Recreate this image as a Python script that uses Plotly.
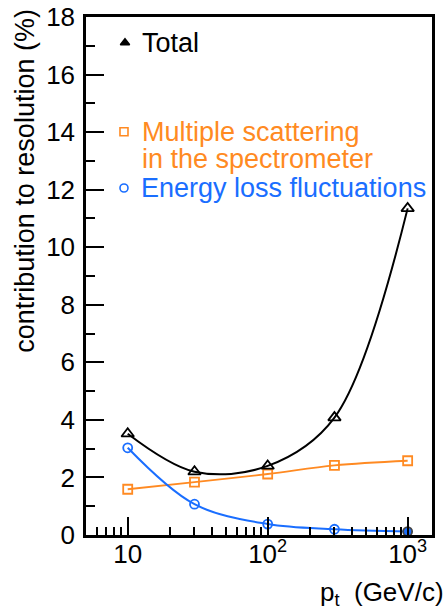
import plotly.graph_objects as go

# ---- data ----
pt = [10, 30, 100, 300, 1000]
total = [3.52, 2.20, 2.40, 4.08, 11.35]
mult_scat = [1.59, 1.84, 2.12, 2.42, 2.58]
eloss = [3.03, 1.07, 0.38, 0.20, 0.12]

labels = ["Total", "Multiple scattering", "in the spectrometer", "Energy loss fluctuations"]
x_major = [10, 100, 1000]
x_major_text = ["10", "10<sup>2</sup>", "10<sup>3</sup>"]
x_minor = [6, 7, 8, 9, 20, 30, 40, 50, 60, 70, 80, 90, 200, 300, 400, 500, 600, 700, 800, 900]
y_major = list(range(0, 19, 2))
y_minor = list(range(1, 18, 2))

BLACK = "#000000"
ORANGE = "#ff8a22"
BLUE = "#1a6eff"
FONT = "Liberation Sans, Arial, sans-serif"

fig = go.Figure()

fig.add_trace(go.Scatter(
    x=pt, y=mult_scat, mode="lines+markers",
    line=dict(color=ORANGE, width=1.8, shape="spline", smoothing=1.0),
    marker=dict(symbol="square-open", size=9, color=ORANGE, line=dict(width=1.8)),
    showlegend=False))
fig.add_trace(go.Scatter(
    x=pt, y=eloss, mode="lines+markers",
    line=dict(color=BLUE, width=2, shape="spline", smoothing=1.0),
    marker=dict(symbol=["circle-open"] * 4 + ["circle"], size=9, color=BLUE, line=dict(width=1.8)),
    showlegend=False))
fig.add_trace(go.Scatter(
    x=pt, y=total, mode="lines+markers",
    line=dict(color=BLACK, width=2, shape="spline", smoothing=1.0),
    marker=dict(symbol="triangle-up-open", size=11, color=BLACK, line=dict(width=1.8)),
    showlegend=False))

# legend markers on an overlay axis (0..1 paper-like)
leg_x = [0.1127, 0.1098, 0.1098]
leg_y = [0.9504, 0.7786, 0.6699]
leg_sym = ["triangle-up", "square-open", "circle-open"]
leg_col = [BLACK, ORANGE, BLUE]
for lx, ly, s, c in zip(leg_x, leg_y, leg_sym, leg_col):
    fig.add_trace(go.Scatter(
        x=[lx], y=[ly], xaxis="x2", yaxis="y2", mode="markers",
        marker=dict(symbol=s, size=8, color=c, line=dict(width=1.6, color=c)),
        showlegend=False, hoverinfo="skip"))

text_x = 0.155
LEG_SIZE = 27
fig.add_annotation(x=text_x, y=0.9504, xref="paper", yref="paper", text=labels[0],
                   showarrow=False, xanchor="left", yanchor="middle",
                   font=dict(family=FONT, size=LEG_SIZE, color=BLACK))
fig.add_annotation(x=text_x, y=0.7786, xref="paper", yref="paper", text=labels[1],
                   showarrow=False, xanchor="left", yanchor="middle",
                   font=dict(family=FONT, size=LEG_SIZE, color=ORANGE))
fig.add_annotation(x=text_x, y=0.7265, xref="paper", yref="paper", text=labels[2],
                   showarrow=False, xanchor="left", yanchor="middle",
                   font=dict(family=FONT, size=LEG_SIZE, color=ORANGE))
fig.add_annotation(x=text_x - 0.003, y=0.6699, xref="paper", yref="paper", text=labels[3],
                   showarrow=False, xanchor="left", yanchor="middle",
                   font=dict(family=FONT, size=LEG_SIZE, color=BLUE))

# axis titles
fig.add_annotation(x=-0.176, y=1.02, xref="paper", yref="paper",
                   text="contribution to resolution (%)", textangle=-90,
                   showarrow=False, xanchor="center", yanchor="top",
                   font=dict(family=FONT, size=27, color=BLACK))
fig.add_annotation(x=1.04, y=-0.112, xref="paper", yref="paper",
                   text="p<sub>t</sub>  (GeV/c)",
                   showarrow=False, xanchor="right", yanchor="middle",
                   font=dict(family=FONT, size=26, color=BLACK))

fig.update_layout(
    width=447, height=614,
    margin=dict(l=86, r=15, t=17, b=79, autoexpand=False),
    paper_bgcolor="white", plot_bgcolor="white",
    font=dict(family=FONT, size=26, color=BLACK),
    xaxis=dict(
        type="log", range=[0.702, 3.174], automargin=False,
        tickmode="array", tickvals=x_major, ticktext=x_major_text,
        ticks="inside", ticklen=18, tickwidth=1.5, tickcolor=BLACK,
        minor=dict(tickmode="array", tickvals=x_minor, ticks="inside", ticklen=8,
                   tickwidth=1.5, tickcolor=BLACK, showgrid=False),
        showline=True, linewidth=2.5, linecolor=BLACK, mirror=True,
        showgrid=False, zeroline=False,
        tickfont=dict(family=FONT, size=26, color=BLACK),
        ticklabelstandoff=-6,
    ),
    yaxis=dict(
        range=[0, 18], automargin=False,
        tickmode="array", tickvals=y_major,
        ticks="inside", ticklen=18, tickwidth=1.5, tickcolor=BLACK,
        minor=dict(tickmode="array", tickvals=y_minor, ticks="inside", ticklen=9,
                   tickwidth=1.5, tickcolor=BLACK, showgrid=False),
        showline=True, linewidth=2.5, linecolor=BLACK, mirror=True,
        showgrid=False, zeroline=False,
        tickfont=dict(family=FONT, size=26, color=BLACK),
        ticklabelstandoff=3,
    ),
    xaxis2=dict(overlaying="x", range=[0, 1], visible=False),
    yaxis2=dict(overlaying="y", range=[0, 1], visible=False),
)

fig.write_html("out.html", config={"displayModeBar": False},
               post_script="document.body.style.margin='0';")
